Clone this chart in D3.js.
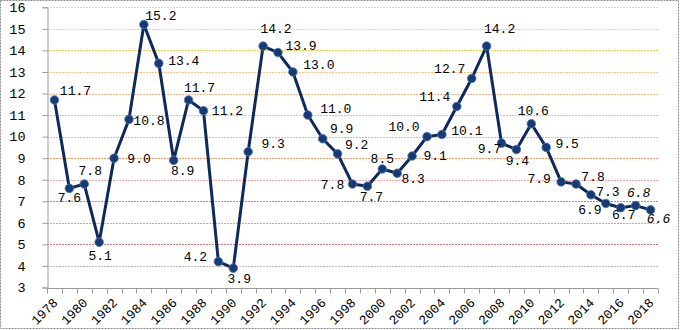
<!DOCTYPE html>
<html>
<head>
<meta charset="utf-8">
<script src="https://cdn.jsdelivr.net/npm/d3@7/dist/d3.min.js"></script>
<style>
  html, body { margin: 0; padding: 0; background: #fff; }
  svg { display: block; }
</style>
</head>
<body>
<svg id="chart" width="680" height="330"></svg>
<script>
const years = d3.range(1978, 2019);
const growth = [11.7, 7.6, 7.8, 5.1, 9.0, 10.8, 15.2, 13.4, 8.9, 11.7, 11.2, 4.2, 3.9, 9.3, 14.2, 13.9, 13.0, 11.0, 9.9, 9.2,
                7.8, 7.7, 8.5, 8.3, 9.1, 10.0, 10.1, 11.4, 12.7, 14.2, 9.7, 9.4, 10.6, 9.5, 7.9, 7.8, 7.3, 6.9, 6.7, 6.8, 6.6];
const yTicks = [3, 4, 5, 6, 7, 8, 9, 10, 11, 12, 13, 14, 15, 16];
const xTickLabels = years.filter(y => (y - 1978) % 2 === 0);
// label offsets relative to each point (layout, not data)
const labelOffsets = [[21,-5],[0,14],[6,-9],[1,18],[25,5],[20,6],[17,-5],[25,2],[9,15],[11,-8],
                      [24,4],[-23,-1],[6,15],[25,-4],[13,-13],[23,-3],[26,-3],[28,-2],[19,-6],[19,-5],
                      [-20,5],[4,15],[0,-6],[16,10],[23,4],[-23,-6],[25,1],[-22,-5],[-22,-5],[13,-13],
                      [-12,10],[1,15],[2,-9],[21,1],[-22,1],[17,-3],[17,1],[-16,11],[3,11],[3,-9],[8,13]];
const italicYears = [2017, 2018];
const gridColors = {16:"#ffe640",15:"#ffd84a",14:"#ffcc44",13:"#ffc080",12:"#ffb888",11:"#ffc060",
                    10:"#ffb090",9:"#ff9966",8:"#ffa8a8",7:"#e87878",6:"#f09898",5:"#e07474",4:"#c4b4b4",3:"#999"};

const svg = d3.select("#chart");
const margin = {left: 47, right: 22, top: 7.3, bottom: 42.5};
const W = 680, H = 330;

// outer border
svg.append("rect").attr("x",0.5).attr("y",0.5).attr("width",678).attr("height",328)
  .attr("fill","#fff").attr("stroke","#8a8a8a").attr("stroke-dasharray","2,1");

const x = d3.scaleBand().domain(years).range([margin.left, W - margin.right]).padding(0);
const y = d3.scaleLinear().domain([3, 16]).range([H - margin.bottom, margin.top]);

// gridlines
svg.append("g").selectAll("line").data(yTicks.filter(t => t > 3)).join("line")
  .attr("x1", margin.left).attr("x2", W - margin.right)
  .attr("y1", d => Math.round(y(d)) + 0.5).attr("y2", d => Math.round(y(d)) + 0.5)
  .attr("stroke", d => gridColors[d]).attr("stroke-width", 1).attr("stroke-dasharray", "2,1");

// y axis
const yAxis = svg.append("g").attr("transform", `translate(${margin.left + 0.5},0)`)
  .call(d3.axisLeft(y).tickValues(yTicks).tickSize(5).tickPadding(17).tickFormat(d3.format("d")));
yAxis.select(".domain").attr("stroke", "#9a9a9a");
yAxis.selectAll(".tick line").attr("stroke", "#9a9a9a");
yAxis.selectAll("text").attr("font-family", "Liberation Mono, monospace").attr("font-size", 13.5).attr("fill", "#000");

// x axis: tick marks at category boundaries
const xAxisY = Math.round(y(3)) + 0.5;
const xg = svg.append("g");
xg.append("line").attr("x1", margin.left).attr("x2", W - margin.right).attr("y1", xAxisY).attr("y2", xAxisY).attr("stroke", "#9a9a9a");
xg.selectAll("line.tk").data(years.concat([2019])).join("line").attr("class","tk")
  .attr("x1", d => Math.round(d === 2019 ? W - margin.right : x(d)) + 0.5)
  .attr("x2", d => Math.round(d === 2019 ? W - margin.right : x(d)) + 0.5)
  .attr("y1", xAxisY).attr("y2", xAxisY + 5).attr("stroke", "#9a9a9a");
xg.selectAll("text").data(xTickLabels).join("text")
  .attr("transform", d => `translate(${x(d) + x.bandwidth()/2 + 4},${xAxisY + 15}) rotate(-45)`)
  .attr("text-anchor", "end")
  .attr("font-family", "Liberation Mono, monospace").attr("font-size", 13).attr("fill", "#000")
  .text(d => d);

// line
const cx = (d, i) => x(years[i]) + x.bandwidth() / 2;
svg.append("path").datum(growth)
  .attr("d", d3.line().x((d, i) => cx(d, i)).y(d => y(d)))
  .attr("fill", "none").attr("stroke", "#0e2a58").attr("stroke-width", 3).attr("stroke-linejoin", "round");

// markers
svg.append("g").selectAll("circle").data(growth).join("circle")
  .attr("cx", (d, i) => cx(d, i)).attr("cy", d => y(d)).attr("r", 4.3)
  .attr("fill", "#173a72").attr("stroke", "#4a78b8").attr("stroke-width", 0.8);

// data labels
svg.append("g").selectAll("text").data(growth).join("text")
  .attr("x", (d, i) => cx(d, i) + labelOffsets[i][0])
  .attr("y", (d, i) => y(d) + labelOffsets[i][1])
  .attr("text-anchor", "middle")
  .attr("font-family", "Liberation Mono, monospace").attr("font-size", 13).attr("fill", "#000")
  .attr("font-style", (d, i) => italicYears.includes(years[i]) ? "italic" : "normal")
  .text(d => d.toFixed(1));
</script>
</body>
</html>
